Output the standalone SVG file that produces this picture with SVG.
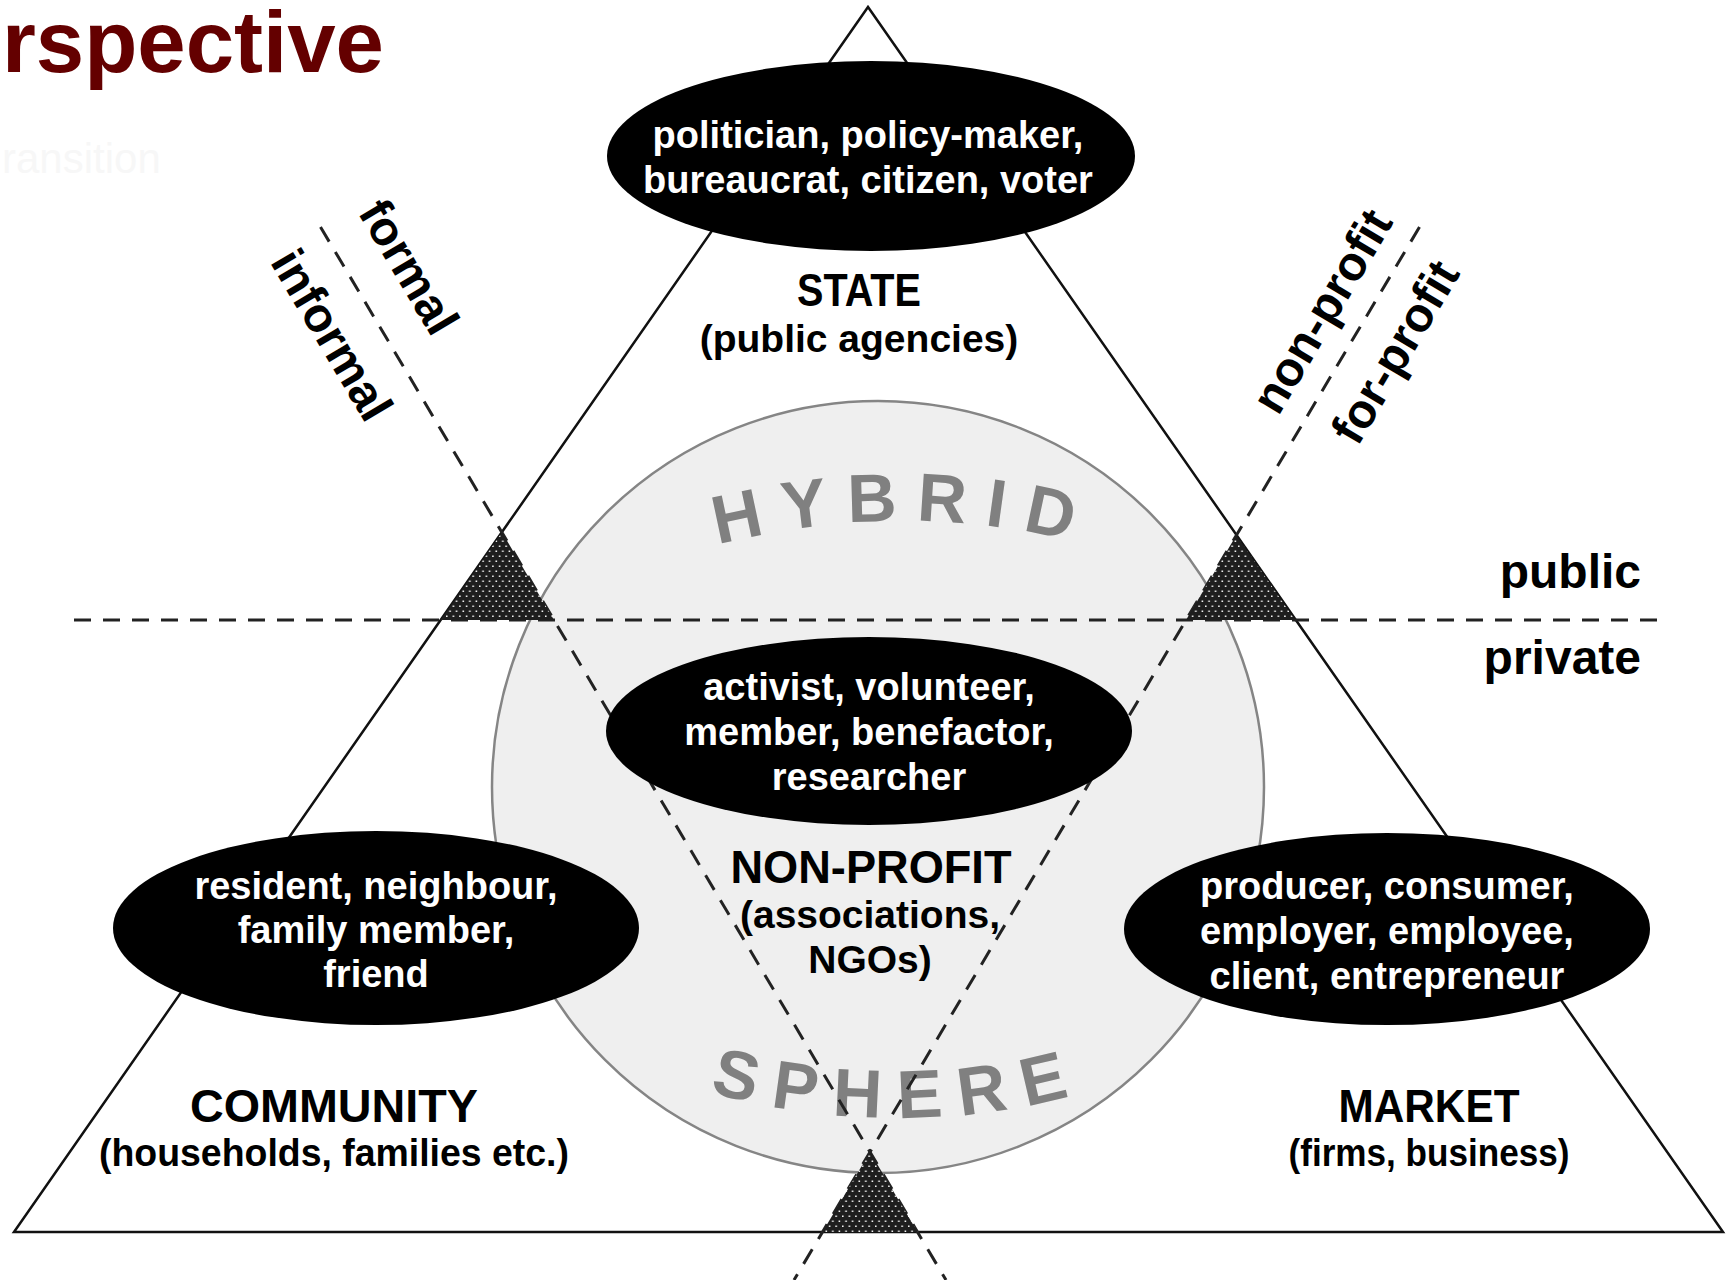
<svg xmlns="http://www.w3.org/2000/svg" width="1730" height="1280" viewBox="0 0 1730 1280">
<style>
.t{font-family:"Liberation Sans",Arial,sans-serif;font-weight:bold;text-anchor:middle}
.w{fill:#fff;font-size:38px}
.k{fill:#000}
.cap{font-size:47px}
.sub{font-size:39px}
.side{font-size:48px}
.arc{font-family:"Liberation Sans",Arial,sans-serif;font-weight:bold;font-size:68px;fill:#808080;letter-spacing:19px}
.dash{fill:none;stroke:#222;stroke-width:3;stroke-dasharray:17 12}
.ell{fill:#000}
.hatch{fill:url(#dots)}
</style>
<defs>
<pattern id="dots" width="6.6" height="10" patternUnits="userSpaceOnUse">
<rect width="6.6" height="10" fill="#1e1e1e"/>
<rect x="0.5" y="0.5" width="1.5" height="1.5" fill="#fff"/>
<rect x="3.8" y="5.5" width="1.5" height="1.5" fill="#fff"/>
</pattern>
<path id="arcTop" d="M 538.5 618.7 A 729 729 0 0 1 1267.5 618.7"/>
<path id="arcBot" d="M 539 1018.5 A 698 698 0 0 0 1257 1018.5"/>
</defs>
<rect width="1730" height="1280" fill="#fff"/>
<text x="384" y="72" font-family="Liberation Sans,Arial,sans-serif" font-weight="bold" font-size="87" fill="#640000" text-anchor="end">rspective</text>
<text x="2" y="173" font-family="Liberation Sans,Arial,sans-serif" font-size="42" fill="#f7f7f7">ransition</text>

<g id="triangle">
<polygon points="868,7 14,1232 1723,1232" fill="none" stroke="#111" stroke-width="2.5" stroke-linejoin="miter"/>
</g>
<g id="hybrid-sphere">
<circle cx="878" cy="787" r="386" fill="#efefef" stroke="#858585" stroke-width="2.5"/>
<text class="arc" text-anchor="middle"><textPath href="#arcTop" startOffset="50%">HYBRID</textPath></text>
<text class="arc" text-anchor="middle" style="letter-spacing:17px"><textPath href="#arcBot" startOffset="50%">SPHERE</textPath></text>
</g>

<g id="connectors">
<line class="dash" x1="320.5" y1="227" x2="946" y2="1280"/>
<line class="dash" x1="1419.5" y1="227" x2="794" y2="1280"/>
<line class="dash" x1="74" y1="620" x2="1658" y2="620" stroke-dasharray="16 14"/>
</g>

<g id="state">
<ellipse class="ell" cx="871" cy="156" rx="264" ry="95"/>
<text class="t w" x="868" y="148">politician, policy-maker,</text>
<text class="t w" x="868" y="193">bureaucrat, citizen, voter</text>
<text class="t k cap" x="859" y="306" textLength="124" lengthAdjust="spacingAndGlyphs">STATE</text>
<text class="t k sub" x="859" y="352">(public agencies)</text>
</g>

<g id="nonprofit">
<ellipse class="ell" cx="869" cy="731" rx="263" ry="94"/>
<text class="t w" x="869" y="700">activist, volunteer,</text>
<text class="t w" x="869" y="745">member, benefactor,</text>
<text class="t w" x="869" y="790">researcher</text>
<text class="t k cap" x="871" y="883" textLength="281" lengthAdjust="spacingAndGlyphs">NON-PROFIT</text>
<text class="t k sub" x="870" y="928">(associations,</text>
<text class="t k sub" x="870" y="973">NGOs)</text>
</g>

<g id="community">
<ellipse class="ell" cx="376" cy="928" rx="263" ry="97"/>
<text class="t w" x="376" y="899">resident, neighbour,</text>
<text class="t w" x="376" y="943">family member,</text>
<text class="t w" x="376" y="987">friend</text>
<text class="t k cap" x="334" y="1122" textLength="288" lengthAdjust="spacingAndGlyphs">COMMUNITY</text>
<text class="t k sub" x="334" y="1166" textLength="470" lengthAdjust="spacingAndGlyphs">(households, families etc.)</text>
</g>

<g id="market">
<ellipse class="ell" cx="1387" cy="929" rx="263" ry="96"/>
<text class="t w" x="1387" y="899">producer, consumer,</text>
<text class="t w" x="1387" y="944">employer, employee,</text>
<text class="t w" x="1387" y="989">client, entrepreneur</text>
<text class="t k cap" x="1429" y="1122" textLength="181" lengthAdjust="spacingAndGlyphs">MARKET</text>
<text class="t k sub" x="1429" y="1166" textLength="281" lengthAdjust="spacingAndGlyphs">(firms, business)</text>
</g>

<g id="axis-labels">
<text class="t k side" x="1641" y="588" style="text-anchor:end">public</text>
<text class="t k side" x="1641" y="674" style="text-anchor:end">private</text>
<text class="t k side" x="409" y="267" dominant-baseline="central" transform="rotate(59.3 409 267)">formal</text>
<text class="t k side" x="332" y="335" dominant-baseline="central" transform="rotate(59.3 332 335)">informal</text>
<text class="t k side" x="1322" y="311" dominant-baseline="central" transform="rotate(-59.3 1322 311)">non-profit</text>
<text class="t k side" x="1395" y="352" dominant-baseline="central" transform="rotate(-59.3 1395 352)">for-profit</text>
</g>

<g id="junctions">
<polygon class="hatch" points="501.9,532.2 440.7,620 554,620"/>
<polygon class="hatch" points="1236.3,535.3 1186,620 1295.3,620"/>
<polygon class="hatch" points="870,1152 822.5,1232 917.5,1232"/>
</g>
</svg>
